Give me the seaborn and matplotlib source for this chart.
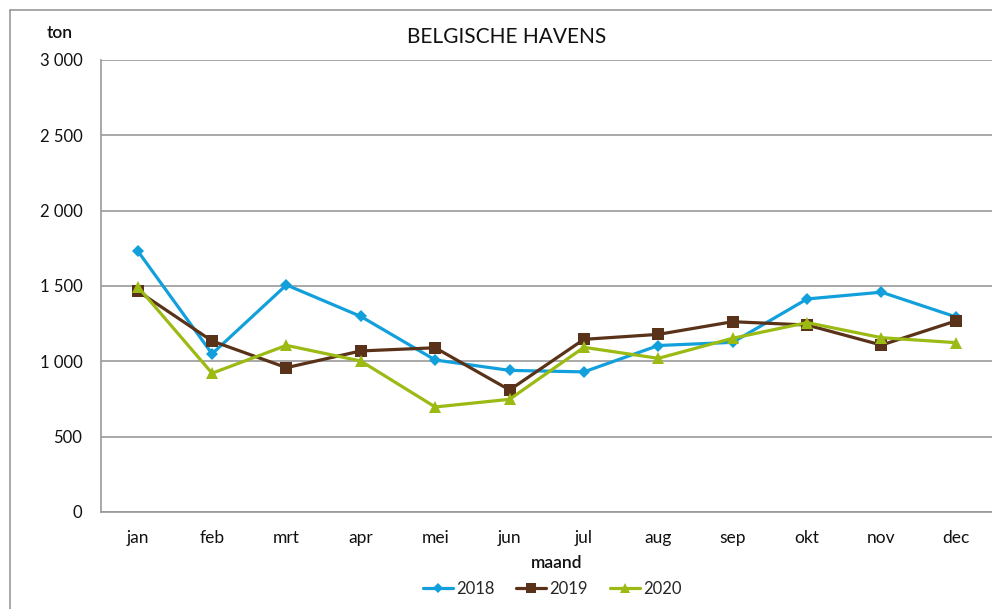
import matplotlib
matplotlib.use("Agg")
import matplotlib.pyplot as plt
import seaborn as sns
import pandas as pd
from matplotlib.lines import Line2D

months = ["jan", "feb", "mrt", "apr", "mei", "jun", "jul", "aug", "sep", "okt", "nov", "dec"]
years = ["2018", "2019", "2020"]
v2018 = [1733, 1050, 1507, 1298, 1009, 940, 930, 1105, 1126, 1414, 1459, 1295]
v2019 = [1467, 1135, 958, 1069, 1090, 810, 1146, 1179, 1263, 1241, 1108, 1268]
v2020 = [1496, 921, 1106, 1002, 697, 748, 1093, 1020, 1153, 1257, 1157, 1124]
yticks = [0, 500, 1000, 1500, 2000, 2500, 3000]
ytick_labels = ["0", "500", "1 000", "1 500", "2 000", "2 500", "3 000"]

colors = {"2018": "#12A0DC", "2019": "#5A3219", "2020": "#9BBA14"}
markers = {"2018": "D", "2019": "s", "2020": "^"}
msize = {"2018": 6, "2019": 9, "2020": 9}

rows = []
for yr, vals in zip(years, [v2018, v2019, v2020]):
    for i, (m, v) in enumerate(zip(months, vals)):
        rows.append({"idx": i, "maand": m, "jaar": yr, "ton": v})
df = pd.DataFrame(rows)

sns.set_theme(style="white")
plt.rcParams["font.family"] = ["Lato", "DejaVu Sans"]

fig = plt.figure(figsize=(9.92, 6.09), dpi=100)
W, H = 992, 609
ax = fig.add_axes([100.5 / W, 1 - 512 / H, (993 - 100.5) / W, (512 - 60) / H])

for yr in years:
    sub = df[df["jaar"] == yr]
    sns.lineplot(data=sub, x="idx", y="ton", ax=ax, color=colors[yr], marker=markers[yr],
                 markersize=msize[yr], markeredgewidth=0, linewidth=2.3, label=yr,
                 legend=False)

ax.set_xlim(-0.5, 11.5)
ax.set_ylim(0, 3000)
ax.set_yticks(yticks)
ax.set_yticklabels(ytick_labels, fontsize=12, color="#111111")
ax.set_xticks(range(len(months)))
ax.set_xticklabels(months, fontsize=12.5, color="#111111")
ax.set_xticks([i + 0.5 for i in range(len(months) - 1)], minor=True)
ax.tick_params(axis="x", which="major", length=0, pad=13)
ax.tick_params(axis="x", which="minor", length=5, width=1, color="#999999", direction="out")
ax.tick_params(axis="y", which="major", length=5, width=1, color="#999999", direction="out", pad=8)
ax.yaxis.grid(True, color="#999999", linewidth=1.2)
ax.set_axisbelow(True)
for s in ["top", "right"]:
    ax.spines[s].set_visible(False)
for s in ["left", "bottom"]:
    ax.spines[s].set_color("#999999")
    ax.spines[s].set_linewidth(1.2)
ax.set_xlabel("maand", fontsize=12.5, fontweight="semibold", labelpad=0, color="#111111")
ax.xaxis.set_label_coords((557 - 100.5) / (993 - 100.5), -(555 - 512) / (512 - 60))
ax.set_ylabel("")

fig.text(507 / W, 1 - 37 / H, "BELGISCHE HAVENS", ha="center", va="center", fontsize=15, color="#111111")
fig.text(60 / W, 1 - 33 / H, "ton", ha="center", va="center", fontsize=12.5, fontweight="semibold", color="#111111")

handles = [Line2D([0], [0], color=colors[y], marker=markers[y], markersize=msize[y] * 0.8,
                  markeredgewidth=0, linewidth=2.3) for y in years]
fig.legend(handles, years, loc="center", bbox_to_anchor=(552 / W, 1 - 589 / H), ncol=3,
           frameon=False, fontsize=12, handlelength=1.8, handletextpad=0.2, columnspacing=1.3,
           borderpad=0)

fig.add_artist(Line2D([10 / W, 1], [1 - 10 / H, 1 - 10 / H], transform=fig.transFigure, color="#999999", linewidth=1.2))
fig.add_artist(Line2D([10 / W, 10 / W], [0, 1 - 10 / H], transform=fig.transFigure, color="#999999", linewidth=1.2))

fig.savefig("out.png", dpi=100)
